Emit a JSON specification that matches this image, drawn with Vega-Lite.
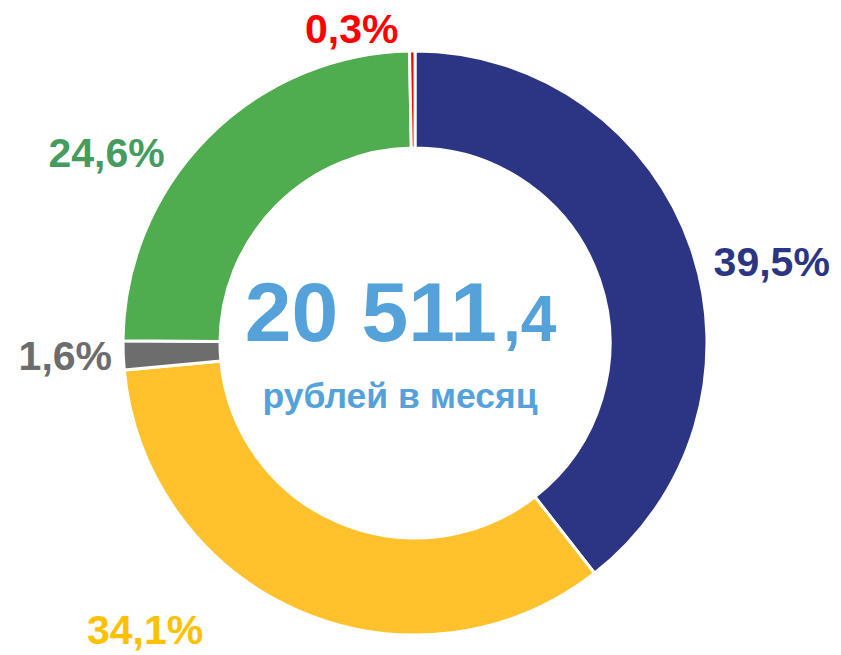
{
  "$schema": "https://vega.github.io/schema/vega-lite/v6.json",
  "width": 830,
  "height": 624,
  "autosize": {"type": "none"},
  "padding": {"left": 0, "right": 11, "top": 31, "bottom": 0},
  "background": "white",
  "config": {"view": {"stroke": null}, "font": "Liberation Sans"},
  "datasets": {
    "shares": [
      {"cat": "A", "value": 39.5, "label": "39,5%", "order": 1},
      {"cat": "B", "value": 34.1, "label": "34,1%", "order": 2},
      {"cat": "C", "value": 1.6, "label": "1,6%", "order": 3},
      {"cat": "D", "value": 24.6, "label": "24,6%", "order": 4},
      {"cat": "E", "value": 0.3, "label": "0,3%", "order": 5}
    ],
    "center": [
      {"big": "20 511", "small": ",4", "unit": "рублей в месяц"}
    ]
  },
  "data": {"name": "shares"},
  "encoding": {
    "theta": {"field": "value", "type": "quantitative", "stack": true},
    "order": {"field": "order", "type": "quantitative", "sort": "ascending"}
  },
  "layer": [
    {
      "mark": {"type": "arc", "outerRadius": 292, "innerRadius": 195, "stroke": "white", "strokeWidth": 3},
      "encoding": {
        "color": {
          "field": "cat", "type": "nominal", "legend": null,
          "scale": {"domain": ["A", "B", "C", "D", "E"], "range": ["#2B3583", "#FFC22D", "#6D6D6D", "#4FAD50", "#FF0000"]}
        }
      }
    },
    {
      "mark": {"type": "text", "radius": 355, "dx": 21, "dy": 36, "fontSize": 41, "fontWeight": "bold", "color": "#2B3583", "baseline": "middle", "align": "center"},
      "encoding": {"text": {"condition": {"test": "datum.cat == 'A'", "field": "label"}, "value": ""}}
    },
    {
      "mark": {"type": "text", "radius": 355, "dx": -129, "dy": -37, "fontSize": 41, "fontWeight": "bold", "color": "#FFC000", "baseline": "middle", "align": "center"},
      "encoding": {"text": {"condition": {"test": "datum.cat == 'B'", "field": "label"}, "value": ""}}
    },
    {
      "mark": {"type": "text", "radius": 355, "dx": 5, "dy": 0, "fontSize": 41, "fontWeight": "bold", "color": "#6D6D6D", "baseline": "middle", "align": "center"},
      "encoding": {"text": {"condition": {"test": "datum.cat == 'C'", "field": "label"}, "value": ""}}
    },
    {
      "mark": {"type": "text", "radius": 355, "dx": -56, "dy": 62, "fontSize": 41, "fontWeight": "bold", "color": "#469C5E", "baseline": "middle", "align": "center"},
      "encoding": {"text": {"condition": {"test": "datum.cat == 'D'", "field": "label"}, "value": ""}}
    },
    {
      "mark": {"type": "text", "radius": 355, "dx": -60, "dy": 43, "fontSize": 41, "fontWeight": "bold", "color": "#FF0000", "baseline": "middle", "align": "center"},
      "encoding": {"text": {"condition": {"test": "datum.cat == 'E'", "field": "label"}, "value": ""}}
    },
    {
      "data": {"name": "center"},
      "mark": {"type": "text", "align": "right", "baseline": "alphabetic", "dx": 82, "dy": -2, "fontSize": 84, "fontWeight": "bold", "color": "#55A2DA"},
      "encoding": {"text": {"field": "big"}, "theta": null, "order": null}
    },
    {
      "data": {"name": "center"},
      "mark": {"type": "text", "align": "left", "baseline": "alphabetic", "dx": 88, "dy": -2, "fontSize": 64, "fontWeight": "bold", "color": "#55A2DA"},
      "encoding": {"text": {"field": "small"}, "theta": null, "order": null}
    },
    {
      "data": {"name": "center"},
      "mark": {"type": "text", "align": "center", "baseline": "alphabetic", "dx": -15, "dy": 65, "fontSize": 35.5, "fontWeight": "bold", "color": "#55A2DA"},
      "encoding": {"text": {"field": "unit"}, "theta": null, "order": null}
    }
  ]
}
